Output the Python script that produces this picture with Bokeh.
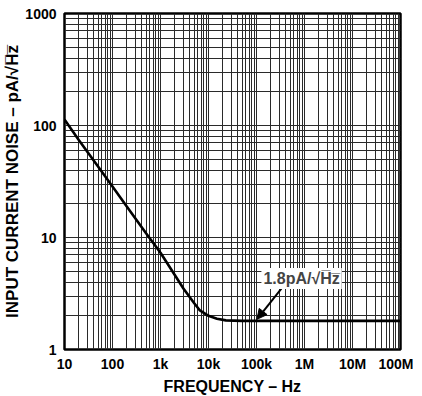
from bokeh.plotting import figure
from bokeh.models import FixedTicker, Label, Arrow, NormalHead
from bokeh.embed import file_html
from bokeh.resources import INLINE

# Data
freq = [10, 20, 50, 100, 200, 500, 1e3, 2e3, 3e3, 5e3, 6.5e3, 1e4, 1.5e4, 2.3e4, 5e4, 1e5, 1e6, 1e7, 1e8]
noise = [113, 74, 43, 28.5, 18.8, 10.9, 7.3, 4.6, 3.5, 2.6, 2.25, 2.0, 1.88, 1.82, 1.8, 1.8, 1.8, 1.8, 1.8]

x_major = [10, 100, 1e3, 1e4, 1e5, 1e6, 1e7, 1e8]
x_labels = ["10", "100", "1k", "10k", "100k", "1M", "10M", "100M"]
y_major = [1, 10, 100, 1000]
y_labels = ["1", "10", "100", "1000"]

annot_text = "1.8pA/\u221aH\u0305z\u0305"
annot_pos = (8.7e5, 4.3)
arrow_start = (3.3e5, 3.5)
arrow_end = (1.02e5, 1.86)

FONT = "Liberation Sans"

p = figure(x_axis_type="log", y_axis_type="log",
           x_range=(10, 1e8), y_range=(1, 1000),
           frame_width=336, frame_height=336,
           min_border_left=57, min_border_right=13, min_border_top=13, min_border_bottom=45,
           output_backend="svg", toolbar_location=None)

x_minor = [m * d for d in x_major[:-1] for m in range(2, 10)]
y_minor = [m * d for d in y_major[:-1] for m in range(2, 10)]
p.xaxis.ticker = FixedTicker(ticks=x_major, minor_ticks=x_minor)
p.yaxis.ticker = FixedTicker(ticks=y_major, minor_ticks=y_minor)
p.xaxis.major_label_overrides = {v: s for v, s in zip(x_major, x_labels)}
p.yaxis.major_label_overrides = {v: s for v, s in zip(y_major, y_labels)}

for ax in (p.xaxis, p.yaxis):
    ax.axis_line_color = None
    ax.major_tick_in = 0
    ax.major_tick_out = 0
    ax.minor_tick_in = 0
    ax.minor_tick_out = 0
    ax.major_label_text_font = FONT
    ax.major_label_text_font_style = "bold"
    ax.major_label_text_font_size = "14px"
    ax.major_label_text_color = "black"
    ax.axis_label_text_font = FONT
    ax.axis_label_text_font_style = "bold"
    ax.axis_label_text_color = "black"

p.xaxis.axis_label_text_font_size = "16px"
p.yaxis.axis_label_text_font_size = "17px"
p.xaxis.axis_label = "FREQUENCY \u2013 Hz"
p.yaxis.axis_label = "INPUT CURRENT NOISE \u2013 pA/\u221aH\u0305z\u0305"
p.xaxis.major_label_standoff = 6
p.yaxis.major_label_standoff = 8
p.xaxis.axis_label_standoff = 3
p.yaxis.axis_label_standoff = 0

for g in (p.xgrid, p.ygrid):
    g.grid_line_color = "#2a2a2a"
    g.grid_line_width = 1
    g.minor_grid_line_color = "#2a2a2a"
    g.minor_grid_line_width = 1

p.outline_line_color = "black"
p.outline_line_width = 2.5
p.background_fill_color = "white"
p.border_fill_color = "white"

p.line(freq, noise, line_color="black", line_width=2.6)

p.add_layout(Arrow(end=NormalHead(size=10, fill_color="black", line_color="black"),
                   x_start=arrow_start[0], y_start=arrow_start[1],
                   x_end=arrow_end[0], y_end=arrow_end[1],
                   line_color="black", line_width=2))
p.add_layout(Label(x=annot_pos[0], y=annot_pos[1], text=annot_text,
                   text_align="center", text_baseline="middle",
                   text_font=FONT, text_font_style="bold", text_font_size="16px",
                   background_fill_color="white", padding=2))

open("out.html", "w").write(file_html(p, INLINE))
